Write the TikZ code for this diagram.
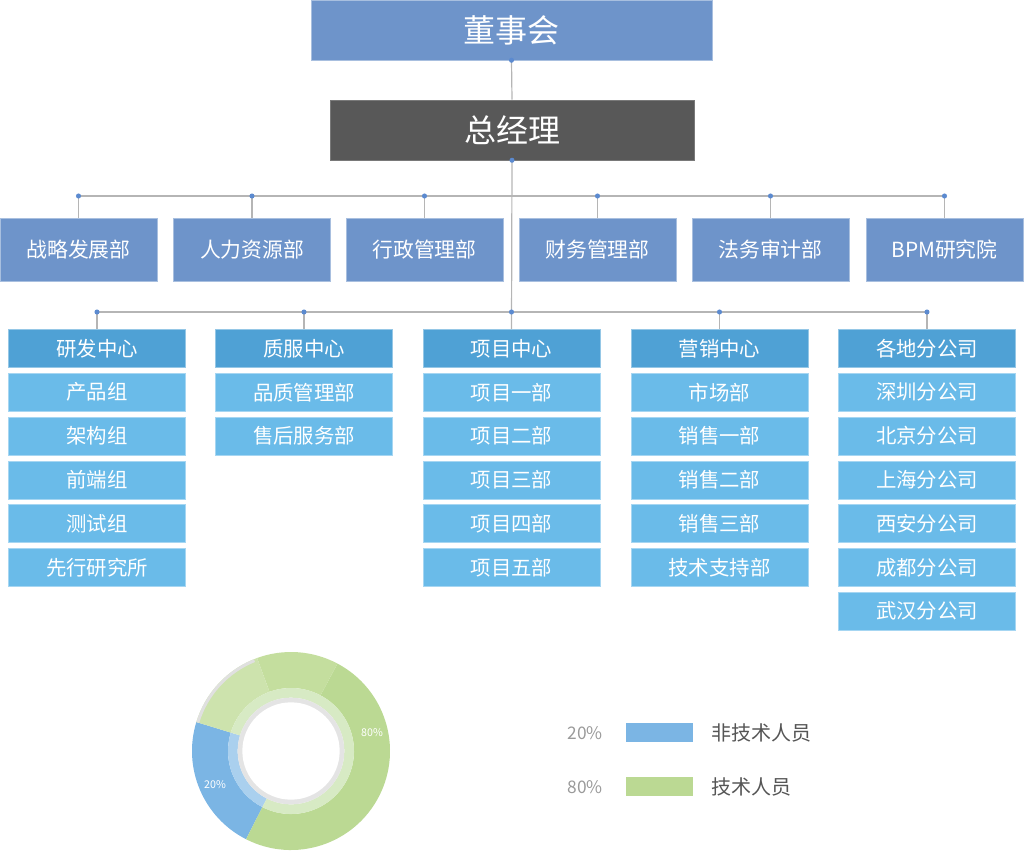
\documentclass[tikz,border=0pt]{standalone}
\usepackage{fontspec}
\setmainfont{Noto Sans CJK SC}
\definecolor{topblue}{HTML}{6E94CA}
\definecolor{darkbox}{HTML}{585858}
\definecolor{hdrblue}{HTML}{4FA1D5}
\definecolor{subblue}{HTML}{6ABBE9}
\definecolor{conncol}{HTML}{B5B5B5}
\definecolor{dotcol}{HTML}{5B8AD0}
\definecolor{pieblue}{HTML}{7BB5E4}
\definecolor{piegreenA}{HTML}{BBD993}
\definecolor{piegreenB}{HTML}{C4DE9E}
\definecolor{piegreenC}{HTML}{CDE3AD}
\definecolor{ringblue}{HTML}{AAD0EE}
\definecolor{ringgreen}{HTML}{D7EAC4}
\definecolor{ringgrey}{HTML}{E4E4E4}
\definecolor{txtgrey}{HTML}{555555}
\definecolor{pctgrey}{HTML}{9A9A9A}
\newcommand\donutsector[5]{\fill[#1] (#2:#4) arc[start angle=#2, end angle=#3, radius=#4] -- (#3:#5) arc[start angle=#3, end angle=#2, radius=#5] -- cycle;}
\tikzset{
  topbox/.style={fill=topblue, draw=topblue!60!white, line width=0.4pt, inner sep=0pt, text=white, font=\fontsize{24}{28}\selectfont},
  gmbox/.style={fill=darkbox, draw=darkbox!80!white, line width=0.4pt, inner sep=0pt, text=white, font=\fontsize{24}{28}\selectfont, minimum width=273pt, minimum height=45pt},
  deptbox/.style={fill=topblue, draw=topblue!60!white, line width=0.4pt, inner sep=0pt, text=white, minimum width=117.75pt, minimum height=47.25pt, font=\fontsize{15.6}{18}\selectfont},
  hdrbox/.style={fill=hdrblue, draw=hdrblue!60!white, line width=0.4pt, inner sep=0pt, text=white, minimum width=132.75pt, minimum height=28.5pt, font=\fontsize{15.3}{17}\selectfont},
  subbox/.style={fill=subblue, draw=subblue!60!white, line width=0.4pt, inner sep=0pt, text=white, minimum width=132.75pt, minimum height=28.5pt, font=\fontsize{15.3}{17}\selectfont},
  conn/.style={draw=conncol, line width=0.9pt},
  legbox/.style={inner sep=0pt, minimum width=50.25pt, minimum height=14.25pt},
  legtext/.style={text=txtgrey, anchor=west, inner sep=0pt, font=\fontsize{15}{17}\selectfont},
  pcttext/.style={text=pctgrey, inner sep=0pt, font=\fontsize{13}{16}\selectfont},
  pielabel/.style={text=white, inner sep=0pt, font=\fontsize{8}{9}\selectfont}
}
\begin{document}
\begin{tikzpicture}[x=0.75pt,y=-0.75pt]
\useasboundingbox (0,0) rectangle (1024,852);

% top levels
\node[topbox, minimum width=300.75pt, minimum height=45pt] (dsh) at (511.5,30) {董事会};
\node[gmbox] (zjl) at (512,130) {总经理};

% departments
\node[deptbox] (d1) at (78.5,249.5) {战略发展部};
\node[deptbox] (d2) at (252,249.5) {人力资源部};
\node[deptbox] (d3) at (424.5,249.5) {行政管理部};
\node[deptbox] (d4) at (597.5,249.5) {财务管理部};
\node[deptbox] (d5) at (770.5,249.5) {法务审计部};
\node[deptbox] (d6) at (944.5,249.5) {BPM研究院};

% column headers
\node[hdrbox] (c1h) at (97,348.5) {研发中心};
\node[hdrbox] (c2h) at (304,348.5) {质服中心};
\node[hdrbox] (c3h) at (511.5,348.5) {项目中心};
\node[hdrbox] (c4h) at (719.5,348.5) {营销中心};
\node[hdrbox] (c5h) at (927,348.5) {各地分公司};

\foreach \t [count=\i] in {产品组,架构组,前端组,测试组,先行研究所}
  \node[subbox] (c1r\i) at (97,{348.5+43.8*\i}) {\t};
\foreach \t [count=\i] in {品质管理部,售后服务部}
  \node[subbox] (c2r\i) at (304,{348.5+43.8*\i}) {\t};
\foreach \t [count=\i] in {项目一部,项目二部,项目三部,项目四部,项目五部}
  \node[subbox] (c3r\i) at (511.5,{348.5+43.8*\i}) {\t};
\foreach \t [count=\i] in {市场部,销售一部,销售二部,销售三部,技术支持部}
  \node[subbox] (c4r\i) at (719.5,{348.5+43.8*\i}) {\t};
\foreach \t [count=\i] in {深圳分公司,北京分公司,上海分公司,西安分公司,成都分公司,武汉分公司}
  \node[subbox] (c5r\i) at (927,{348.5+43.8*\i}) {\t};

% connectors
\coordinate (busA) at (0,196);
\coordinate (busB) at (0,312);
\draw[conn] (dsh.south) -- (zjl.north);
\draw[conn] (zjl.south) -- (c3h.north);
\draw[conn] (d1.north |- busA) -- (d6.north |- busA);
\foreach \n in {d1,d2,d3,d4,d5,d6}
  \draw[conn] (\n.north |- busA) -- (\n.north);
\draw[conn] (c1h.north |- busB) -- (c5h.north |- busB);
\foreach \n in {c1h,c2h,c4h,c5h}
  \draw[conn] (\n.north |- busB) -- (\n.north);
\fill[dotcol] (dsh.south) circle[radius=1.9pt];
\fill[dotcol] (zjl.south) circle[radius=1.9pt];
\foreach \n in {d1,d2,d3,d4,d5,d6}
  \fill[dotcol] (\n.north |- busA) circle[radius=1.9pt];
\foreach \n in {c1h,c2h,c3h,c4h,c5h}
  \fill[dotcol] (\n.north |- busB) circle[radius=1.9pt];

% donut chart
\begin{scope}[shift={(291,751)}]
  \donutsector{pieblue}{163}{243}{74.25pt}{47.25pt}
  \donutsector{piegreenA}{243}{422}{74.25pt}{47.25pt}
  \donutsector{piegreenB}{422}{470}{74.25pt}{47.25pt}
  \donutsector{piegreenC}{470}{523}{74.25pt}{47.25pt}
  \donutsector{black!12}{112}{163}{74.25pt}{72pt}
  \donutsector{ringblue}{163}{243}{47.25pt}{40pt}
  \donutsector{ringgreen}{243}{523}{47.25pt}{40pt}
  \fill[ringgrey] (0,0) circle[radius=40pt];
  \fill[white] (0,0) circle[radius=36.5pt];
\end{scope}
\node[pielabel] (lab80) at (372,733) {80\%};
\node[pielabel] (lab20) at (215,785) {20\%};

% legend
\node[pcttext] (p20) at (585,733) {20\%};
\node[legbox, fill=pieblue] (lg1) at (659.5,732.5) {};
\node[legtext] (lt1) at (711,733) {非技术人员};
\node[pcttext] (p80) at (585,787) {80\%};
\node[legbox, fill=piegreenA] (lg2) at (659.5,786.5) {};
\node[legtext] (lt2) at (711,787) {技术人员};
\end{tikzpicture}
\end{document}
